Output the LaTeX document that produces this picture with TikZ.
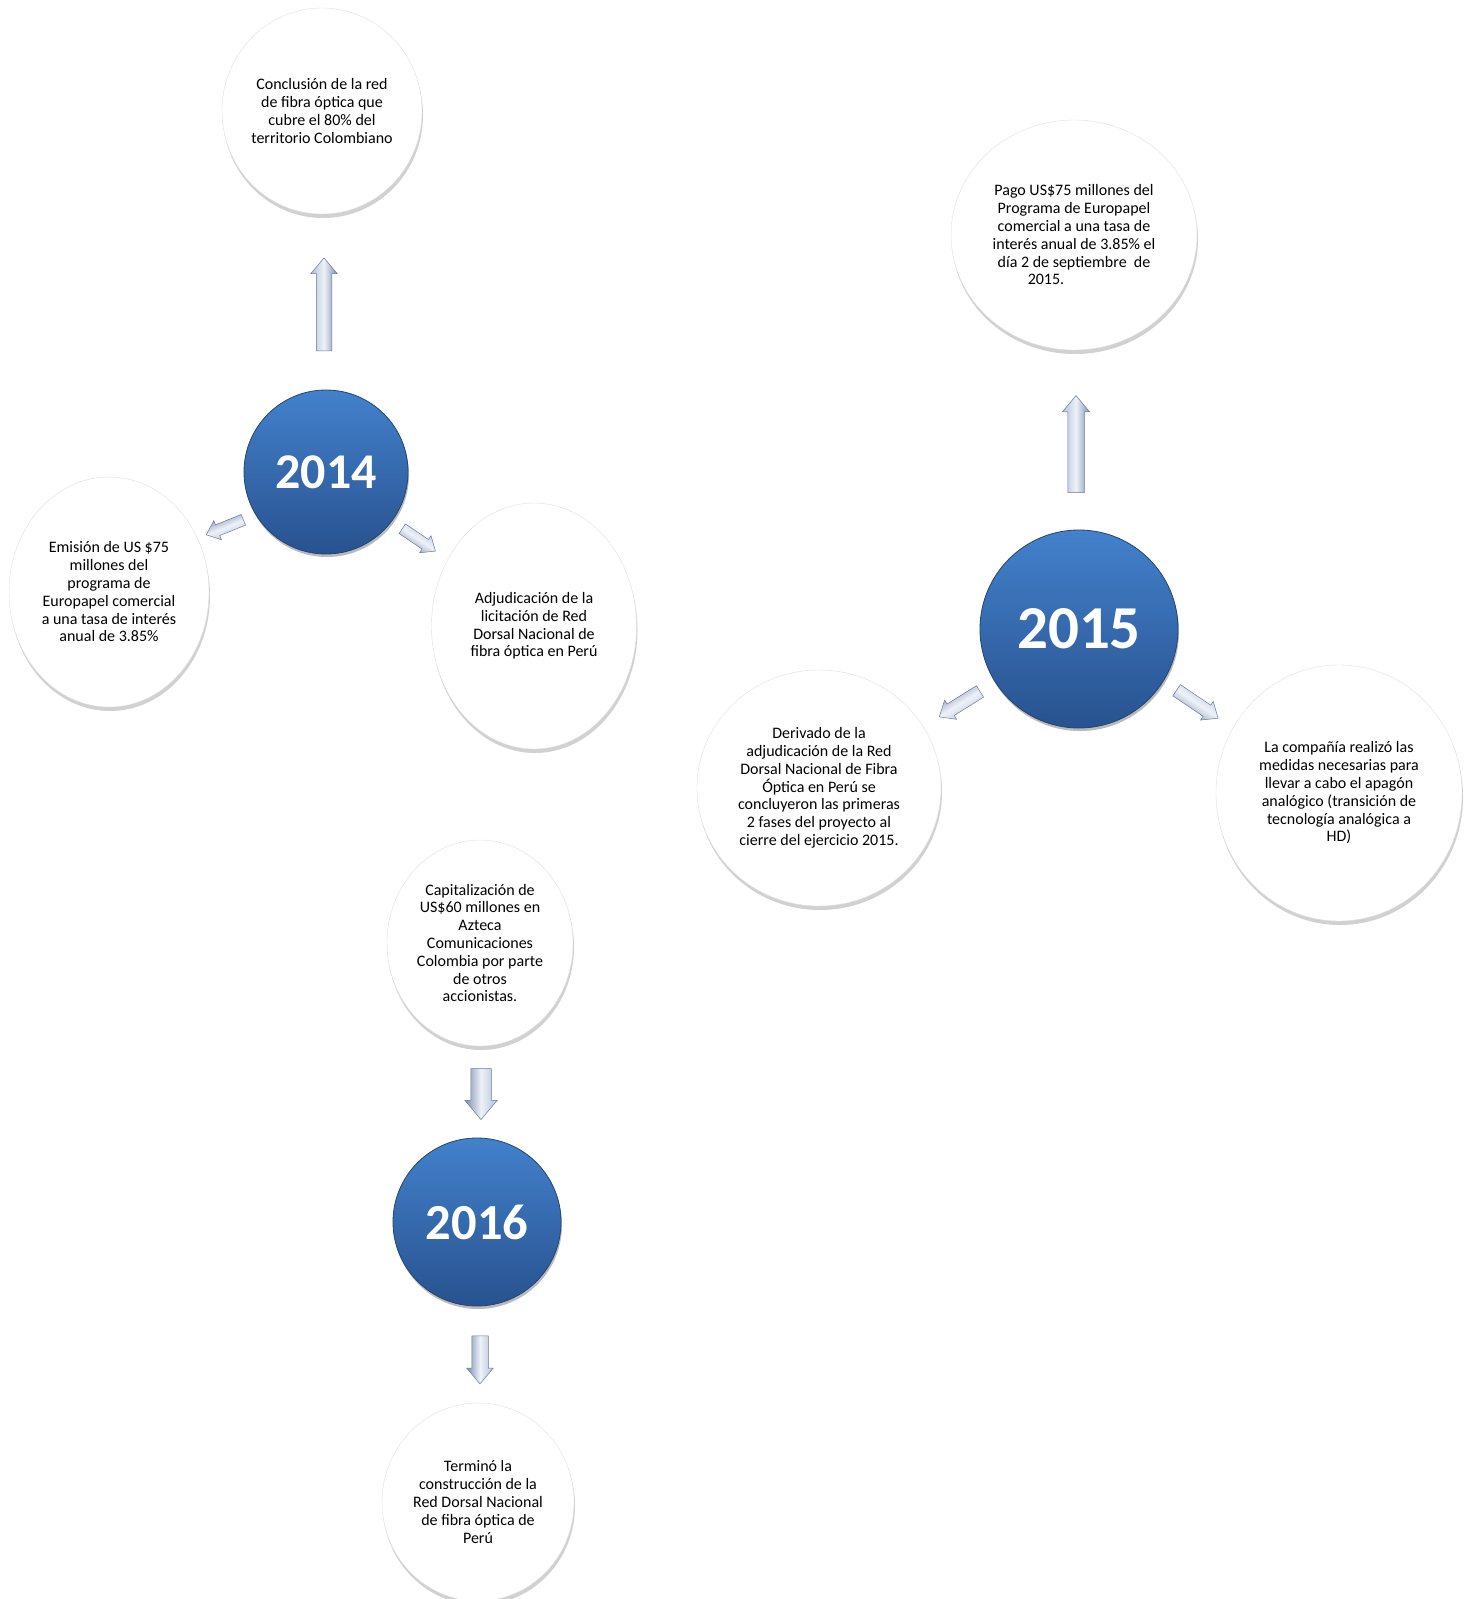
\documentclass[tikz,border=0pt]{standalone}
\usepackage{fontspec}
\setmainfont{Carlito}
\usetikzlibrary{shapes.geometric,shapes.arrows,shadows}

\definecolor{yeartop}{HTML}{4381CC}
\definecolor{yearbot}{HTML}{28528F}
\definecolor{yearedge}{HTML}{22466F}
\definecolor{arrowlight}{HTML}{B3C0DA}
\definecolor{arrowmid}{HTML}{EEF2F8}
\definecolor{arrowdark}{HTML}{7A8BAE}
\definecolor{arrowedge}{HTML}{6A7A9C}

\begin{document}
\begin{tikzpicture}[x=1pt,y=-1pt,
  year/.style={circle,inner sep=0pt,minimum size=#1,top color=yeartop,bottom color=yearbot,
    draw=yearedge,line width=0.8pt,text=white,
    drop shadow={shadow xshift=1pt,shadow yshift=-3pt,fill=black!60,opacity=.45}},
  event/.style n args={2}{ellipse,inner sep=0pt,minimum width=#1,minimum height=#2,
    fill=white,draw=black!12,align=center,font=\fontsize{16}{17.8}\selectfont,
    drop shadow={shadow xshift=1pt,shadow yshift=-4pt,fill=black!40,opacity=.45}},
  blockarrow/.style n args={4}{single arrow,inner xsep=0pt,inner ysep={#3/2},minimum height=#1,
    single arrow head extend={(#2-#3)/2},single arrow head indent=0pt,single arrow tip angle=80,
    top color=arrowlight,bottom color=arrowdark,middle color=arrowmid,shading angle=#4,
    rotate=#4,draw=arrowedge,line width=0.5pt}
]

\useasboundingbox[fill=white] (0,0) rectangle (1473,1599);

% 2014
\node[year=164pt,font=\fontsize{50}{56}\selectfont\bfseries] (y14) at (326,472) {2014};
\node[event={200pt}{206pt}] (red80) at (322,111) {Conclusión de la red\\de fibra óptica que\\cubre el 80\% del\\territorio Colombiano};
\node[event={200pt}{230pt}] (emision) at (109,592) {Emisión de US \$75\\millones del\\programa de\\Europapel comercial\\a una tasa de interés\\anual de 3.85\%};
\node[event={205pt}{246pt}] (licit) at (534,626) {Adjudicación de la\\licitación de Red\\Dorsal Nacional de\\fibra óptica en Perú};

\node[blockarrow={93pt}{26pt}{15pt}{90}] (a1) at (324,309) {};
\node[blockarrow={40pt}{20pt}{11pt}{202}] (a2) at (228,526) {};
\node[blockarrow={40pt}{20pt}{11pt}{-34}] (a3) at (416,538) {};

% 2015
\node[year=198pt,font=\fontsize{61}{66}\selectfont\bfseries] (y15) at (1079,629) {2015};
\node[event={246pt}{230pt}] (pago) at (1074,235) {Pago US\$75 millones del\\Programa de Europapel\\comercial a una tasa de\\interés anual de 3.85\% el\\día 2 de septiembre~ de\\2015.\hspace*{56pt}};
\node[event={244pt}{236pt}] (derivado) at (819,788) {Derivado de la\\adjudicación de la Red\\Dorsal Nacional de Fibra\\Óptica en Perú se\\concluyeron las primeras\\2 fases del proyecto al\\cierre del ejercicio 2015.};
\node[event={246pt}{256pt}] (apagon) at (1339,793) {La compañía realizó las\\medidas necesarias para\\llevar a cabo el apagón\\analógico (transición de\\tecnología analógica a\\HD)};

\node[blockarrow={97pt}{27pt}{16pt}{90}] (a4) at (1076,449) {};
\node[blockarrow={48pt}{22pt}{13pt}{212}] (a5) at (963,702) {};
\node[blockarrow={50pt}{22pt}{13pt}{-34}] (a6) at (1194,702) {};

% 2016
\node[event={186pt}{206pt}] (capital) at (480,943) {Capitalización de\\US\$60 millones en\\Azteca\\Comunicaciones\\Colombia por parte\\de otros\\accionistas.};
\node[year=168pt,font=\fontsize{50.5}{56}\selectfont\bfseries] (y16) at (477,1222) {2016};
\node[event={192pt}{198pt}] (termino) at (478,1502) {Terminó la\\construcción de la\\Red Dorsal Nacional\\de fibra óptica de\\Perú};

\node[blockarrow={51pt}{32pt}{20pt}{-90}] (a7) at (481,1088) {};
\node[blockarrow={48pt}{26pt}{16pt}{-90}] (a8) at (480,1355) {};

\end{tikzpicture}
\end{document}
